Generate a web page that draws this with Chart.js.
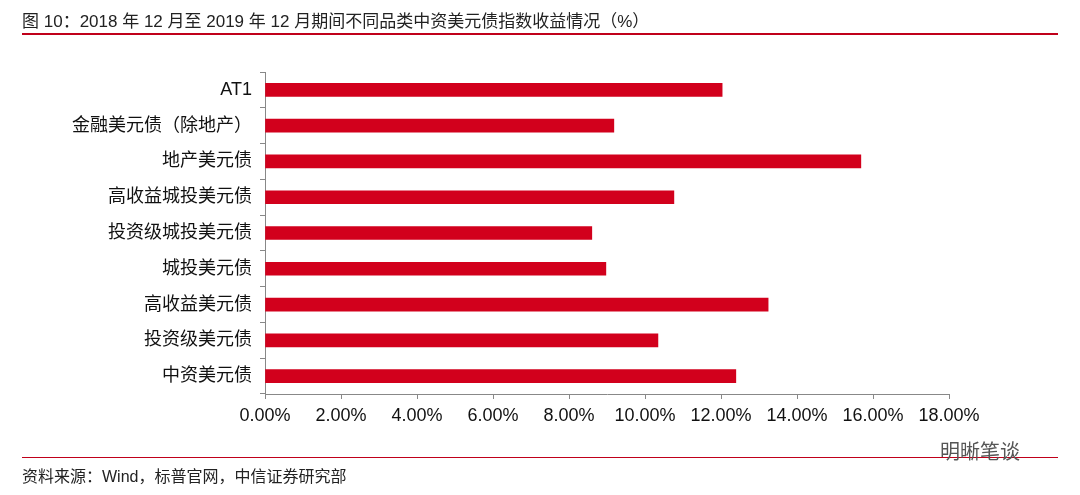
<!DOCTYPE html>
<html><head><meta charset="utf-8">
<script src="https://cdn.jsdelivr.net/npm/chart.js@4"></script>
<style>
body{margin:0;width:1080px;height:495px;background:#fff;position:relative;font-family:"Liberation Sans","Noto Sans CJK SC",sans-serif;overflow:hidden}
#title{position:absolute;left:22px;top:7px;font-size:17px;color:#222}
.line{position:absolute;left:22px;width:1036px;height:2px;background:#c0001a}
#src{position:absolute;left:22px;top:463px;font-size:16px;color:#222}
#wm{position:absolute;left:940px;top:436px;font-size:20px;color:#555}
#wrap{position:absolute;left:0;top:0;width:1080px;height:495px}
</style></head><body>
<div id="wrap"><canvas id="c"></canvas></div>
<div id="title">图 10：2018 年 12 月至 2019 年 12 月期间不同品类中资美元债指数收益情况（%）</div>
<div class="line" style="top:33px"></div>
<div class="line" style="top:457px;height:1px"></div>
<div id="src">资料来源：Wind，标普官网，中信证券研究部</div>
<div id="wm">明晰笔谈</div>
<script>
const categories = ["AT1","金融美元债（除地产）","地产美元债","高收益城投美元债","投资级城投美元债","城投美元债","高收益美元债","投资级美元债","中资美元债"];
const returns = [12.03, 9.18, 15.68, 10.76, 8.6, 8.97, 13.24, 10.34, 12.39];

new Chart(document.getElementById("c"), {
    type: 'bar',
    data: {
        labels: categories,
        datasets: [{ data: returns, backgroundColor: "#d2001c", barThickness: 13 }]
    },
    options: {
        indexAxis: 'y',
        responsive: true,
        maintainAspectRatio: false,
        animation: false,
        layout: { padding: { left: 0, right: 131, top: 72, bottom: 61 } },
        plugins: { legend: { display: false }, tooltip: { enabled: false } },
        scales: {
            x: {
                min: 0, max: 18,
                ticks: { stepSize: 2, color: '#111', font: { size: 18, family: 'Liberation Sans, Noto Sans CJK SC' },
                    callback: v => v.toFixed(2) + '%', maxRotation: 0, padding: 6 },
                grid: { drawOnChartArea: false, tickLength: 5, color: '#888' },
                border: { color: '#888' },
                afterFit: s => { s.height = 40; }
            },
            y: {
                ticks: { color: '#111', font: { size: 18, family: 'Liberation Sans, Noto Sans CJK SC' }, padding: 8 },
                grid: { drawOnChartArea: false, tickLength: 5, color: '#888' },
                border: { color: '#888' },
                afterFit: s => { s.width = 265; }
            }
        }
    }
});
</script>
</body></html>
